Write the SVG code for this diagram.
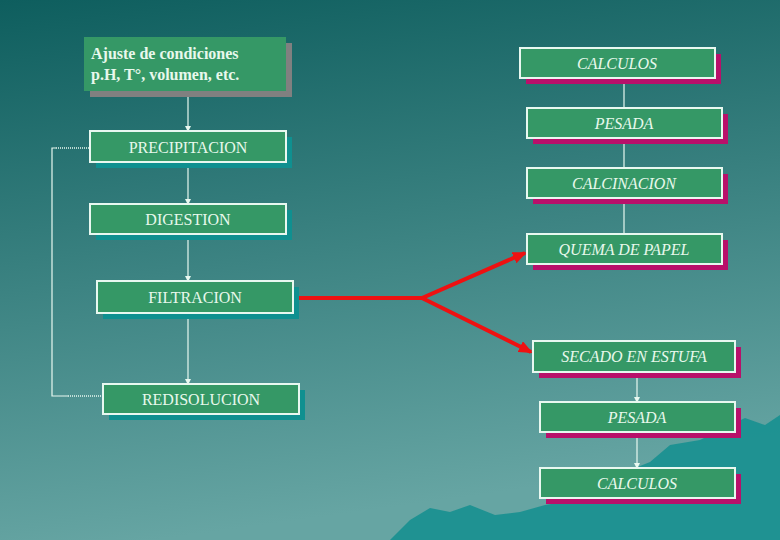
<svg xmlns="http://www.w3.org/2000/svg" width="780" height="540" viewBox="0 0 780 540">
<defs>
<linearGradient id="bg" x1="0" y1="0" x2="0.2" y2="1">
<stop offset="0" stop-color="#0e5e5e"/><stop offset="1" stop-color="#66a5a3"/>
</linearGradient>
<marker id="wa" markerWidth="6" markerHeight="6" refX="5" refY="3" orient="auto" markerUnits="userSpaceOnUse"><path d="M0,0L6,3L0,6z" fill="#e8f8f0"/></marker>
<marker id="ra" markerWidth="14" markerHeight="12" refX="12" refY="6" orient="auto" markerUnits="userSpaceOnUse"><path d="M0,0L14,6L0,12z" fill="#ee1111"/></marker>
<style>
.b{fill:#359866;stroke:#e8f8f0;stroke-width:2}
.ts{fill:#0f9090}.ms{fill:#b8106a}
.t{font-family:"Liberation Serif","DejaVu Serif",serif;font-size:16px;fill:#e8f8ec;text-anchor:middle}
.i{font-style:italic}
.c{stroke:#e8f8f0;stroke-width:1.2;fill:none}
.d{stroke:#e8f8f0;stroke-width:1.5;stroke-dasharray:1 1;fill:none}
.r{stroke:#ee1111;stroke-width:4;fill:none}
</style>
</defs>
<rect width="780" height="540" fill="url(#bg)"/>
<path d="M390,540 L410,520 L430,508 L450,512 L470,505 L495,515 L520,512 L545,505 L575,500 L600,480 L625,472 L650,462 L670,445 L700,440 L720,430 L745,418 L765,425 L780,415 L780,540Z" fill="#179090" opacity="0.9"/>
<g id="connectors">
<line class="c" x1="188" y1="91" x2="188" y2="131" marker-end="url(#wa)"/>
<line class="c" x1="188" y1="162" x2="188" y2="204" marker-end="url(#wa)"/>
<line class="c" x1="188" y1="234" x2="188" y2="281" marker-end="url(#wa)"/>
<line class="c" x1="188" y1="313" x2="188" y2="384" marker-end="url(#wa)"/>
<path class="d" d="M103,396 H68"/><path class="c" d="M68,396 H52 V148 H56"/><path class="d" d="M56,148 H90"/>
<line class="c" x1="624" y1="234" x2="624" y2="198" marker-end="url(#wa)"/>
<line class="c" x1="624" y1="168" x2="624" y2="138" marker-end="url(#wa)"/>
<line class="c" x1="624" y1="108" x2="624" y2="78" marker-end="url(#wa)"/>
<line class="c" x1="637" y1="372" x2="637" y2="402" marker-end="url(#wa)"/>
<line class="c" x1="637" y1="432" x2="637" y2="468" marker-end="url(#wa)"/>
<path class="r" d="M293,298 H422 L525,253" marker-end="url(#ra)"/>
<path class="r" d="M422,298 L531,352" marker-end="url(#ra)"/>
</g>
<g id="ajuste"><rect x="90" y="43" width="202" height="54" fill="#808080"/><rect x="84" y="37" width="202" height="54" fill="#359866"/>
<text class="t" x="91" y="59" style="text-anchor:start;font-weight:bold">Ajuste de condiciones</text><text class="t" x="91" y="80" style="text-anchor:start;font-weight:bold">p.H, T°, volumen, etc.</text></g>
<g id="precipitacion"><rect class="ts" x="96" y="137" width="196" height="31"/><rect class="b" x="90" y="131" width="196" height="31"/><text class="t" x="188" y="153">PRECIPITACION</text></g>
<g id="digestion"><rect class="ts" x="96" y="210" width="196" height="30"/><rect class="b" x="90" y="204" width="196" height="30"/><text class="t" x="188" y="225">DIGESTION</text></g>
<g id="filtracion"><rect class="ts" x="103" y="287" width="196" height="32"/><rect class="b" x="97" y="281" width="196" height="32"/><text class="t" x="195" y="303">FILTRACION</text></g>
<g id="redisolucion"><rect class="ts" x="109" y="390" width="196" height="30"/><rect class="b" x="103" y="384" width="196" height="30"/><text class="t" x="201" y="405">REDISOLUCION</text></g>
<g id="calculos1"><rect class="ms" x="526" y="54" width="195" height="30"/><rect class="b" x="520" y="48" width="195" height="30"/><text class="t i" x="617" y="69">CALCULOS</text></g>
<g id="pesada1"><rect class="ms" x="533" y="114" width="195" height="30"/><rect class="b" x="527" y="108" width="195" height="30"/><text class="t i" x="624" y="129">PESADA</text></g>
<g id="calcinacion"><rect class="ms" x="533" y="174" width="195" height="30"/><rect class="b" x="527" y="168" width="195" height="30"/><text class="t i" x="624" y="189">CALCINACION</text></g>
<g id="quema"><rect class="ms" x="533" y="240" width="195" height="30"/><rect class="b" x="527" y="234" width="195" height="30"/><text class="t i" x="624" y="255">QUEMA DE PAPEL</text></g>
<g id="secado"><rect class="ms" x="539" y="347" width="202" height="31"/><rect class="b" x="533" y="341" width="202" height="31"/><text class="t i" x="634" y="362">SECADO EN ESTUFA</text></g>
<g id="pesada2"><rect class="ms" x="546" y="408" width="195" height="30"/><rect class="b" x="540" y="402" width="195" height="30"/><text class="t i" x="637" y="423">PESADA</text></g>
<g id="calculos2"><rect class="ms" x="546" y="474" width="195" height="30"/><rect class="b" x="540" y="468" width="195" height="30"/><text class="t i" x="637" y="489">CALCULOS</text></g>
</svg>
